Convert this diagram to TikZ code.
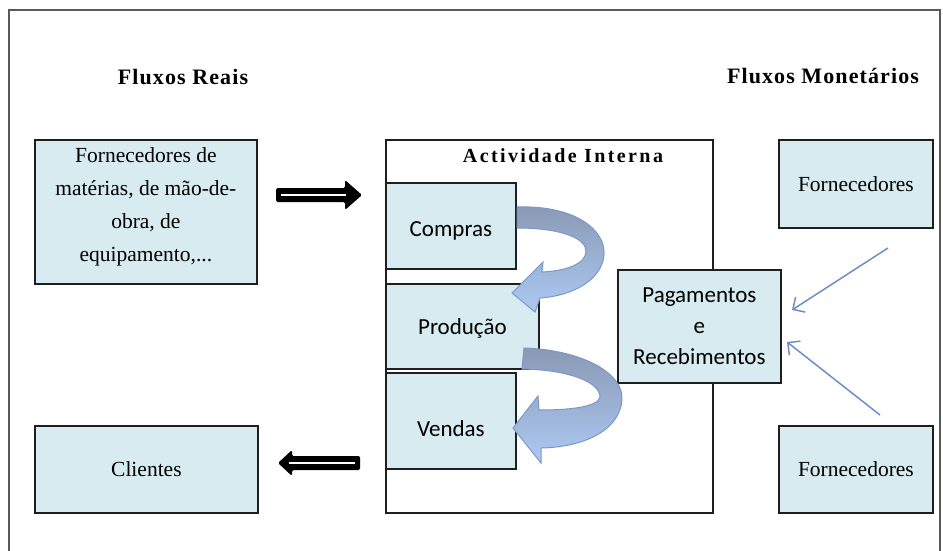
\documentclass[tikz,border=0pt]{standalone}
\usepackage{fontspec}
\setmainfont{Liberation Serif}
\newfontfamily\calib{Carlito}
\newfontfamily\spaced[LetterSpace=5]{Liberation Serif}
\newfontfamily\spacedwide[LetterSpace=12]{Liberation Serif}
\usetikzlibrary{arrows.meta}
\definecolor{boxfill}{HTML}{D7EBF1}
\definecolor{thinblue}{HTML}{6E8FC4}
\definecolor{bandgray}{HTML}{8A99B4}
\definecolor{bandblue}{HTML}{ADC9F4}
\definecolor{bandedge}{HTML}{7B97CA}
\begin{document}
\begin{tikzpicture}[x=1pt,y=-1pt,
  box/.style={draw=black!88, line width=1.8pt, fill=boxfill, inner sep=0pt, anchor=north west, align=center},
  serifbox/.style={box, font={\fontsize{21.5}{33}\selectfont}},
  calbox/.style={box, font={\calib\fontsize{23}{31}\selectfont}},
  titlestyle/.style={font={\spaced\bfseries\fontsize{22}{26}\selectfont}, inner sep=0pt},
  thinarrow/.style={draw=thinblue, line width=1.5pt, -{Straight Barb[length=9pt,width=18pt]}},
  thickarrow/.style={fill=black},
  curvedarr/.style={draw=bandedge, line width=1pt, top color=bandgray, bottom color=bandblue}
]
\useasboundingbox (0,0) rectangle (943,551);
\clip (0,0) rectangle (943,551);
\fill[white] (0,0) rectangle (943,551);
\draw[black!65, line width=2.4pt] (9,10) rectangle (940,590);

% titles
\node[titlestyle] (reais) at (183,77) {Fluxos Reais};
\node[titlestyle] (monet) at (823,76) {Fluxos Monetários};

% left boxes
\node[serifbox, minimum width=222pt, minimum height=144pt, text depth=14pt] (forn) at (34,139)
  {Fornecedores de\\matérias, de mão-de-\\obra, de\\equipamento,...};
\node[serifbox, minimum width=223pt, minimum height=87pt] (clientes) at (34,425) {Clientes};

% right boxes
\node[serifbox, minimum width=154pt, minimum height=88pt] (fornA) at (778,139) {Fornecedores};
\node[serifbox, minimum width=154pt, minimum height=87pt] (fornB) at (778,425) {Fornecedores};

% internal activity
\node[draw=black!88, line width=1.8pt, fill=white, anchor=north west, inner sep=0pt,
      minimum width=327pt, minimum height=373pt] (interna) at (385,139) {};
\node[font={\spacedwide\bfseries\fontsize{20}{24}\selectfont}, inner sep=0pt] (inttitle) at (563,156) {Actividade Interna};
\node[calbox, minimum width=130pt, minimum height=86pt, text height=25pt] (compras) at (385,182) {Compras};
\node[calbox, minimum width=153pt, minimum height=85pt, text height=20pt] (producao) at (385,283) {Produção};
\node[calbox, minimum width=130pt, minimum height=96pt, text height=31pt] (vendas) at (385,372) {Vendas};
\node[calbox, minimum width=163pt, minimum height=113pt, text depth=0pt] (pag) at (617,269) {Pagamentos\\e\\Recebimentos};

% curved arrows
\path[curvedarr] (517,207) .. controls (575,205) and (606,230) .. (604,255)
  .. controls (602,280) and (572,296) .. (540,298) -- (535,312) -- (512,293) -- (543,262) -- (542,272)
  .. controls (566,271) and (585,264) .. (586,252)
  .. controls (587,238) and (560,228) .. (517,228) -- cycle;
\path[curvedarr] (524,348) .. controls (582,350) and (624,373) .. (622,400)
  .. controls (620,428) and (588,447) .. (541,448) -- (541,463) -- (513,428) -- (538,396) -- (539,410)
  .. controls (570,410) and (598,407) .. (600,397)
  .. controls (600,383) and (572,370) .. (522,369) -- cycle;

% thin arrows
\coordinate (a1s) at (888,248);
\coordinate (a1e) at (792,310);
\coordinate (a2s) at (880,415);
\coordinate (a2e) at (787,342);
\draw[thinarrow] (a1s) -- (a1e);
\draw[thinarrow] (a2s) -- (a2e);

% thick arrows
\fill[thickarrow, rounded corners=1.5pt] (276,188) -- (345,188) -- (345,180) -- (362,195) -- (345,210) -- (345,202) -- (276,202) -- cycle;
\draw[white, line width=2.5pt] (281,195) -- (346,195);
\fill[thickarrow, rounded corners=1.5pt] (360,456) -- (292,456) -- (292,450) -- (278,463) -- (292,476) -- (292,470) -- (360,470) -- cycle;
\draw[white, line width=2.5pt] (289,463) -- (355,463);
\end{tikzpicture}
\end{document}
